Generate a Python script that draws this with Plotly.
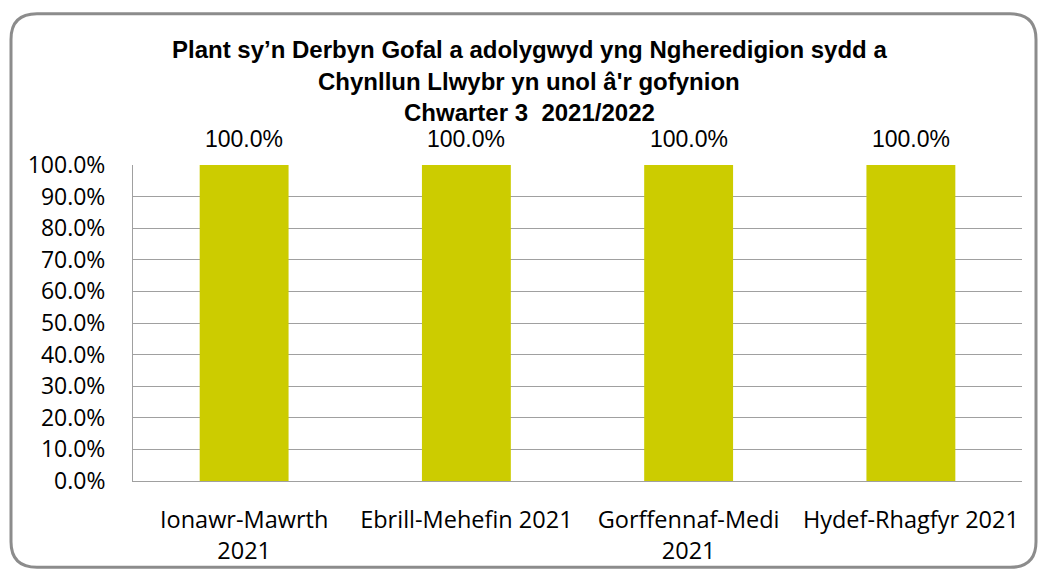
import plotly.graph_objects as go

# Data
categories = [
    "Ionawr-Mawrth<br>2021",
    "Ebrill-Mehefin 2021",
    "Gorffennaf-Medi<br>2021",
    "Hydef-Rhagfyr 2021",
]
values = [1.0, 1.0, 1.0, 1.0]
y_ticks = [0.0, 0.1, 0.2, 0.3, 0.4, 0.5, 0.6, 0.7, 0.8, 0.9, 1.0]

title_lines = [
    "Plant sy\u2019n Derbyn Gofal a adolygwyd yng Ngheredigion sydd a",
    "Chynllun Llwybr yn unol \u00e2'r gofynion",
    "Chwarter 3  2021/2022",
]

W, H = 1039, 578
L, R, T, B = 133, 17, 165, 91
pw, ph = W - L - R, H - T - B


def px(x):
    return (x - L) / pw


def py(y):
    return (H - B - y) / ph


fig = go.Figure(
    go.Bar(
        x=categories,
        y=values,
        marker=dict(color="#CCCC00", line=dict(width=0)),
        width=0.4,
        hoverinfo="skip",
    )
)

# data labels above the bars
for c, v in zip(categories, values):
    fig.add_annotation(
        x=c, y=v, text=f"{v * 100:.1f}%", showarrow=False,
        yanchor="bottom", yshift=11,
        font=dict(family="Liberation Sans, Arial", size=23, color="#000000"),
    )

# title, one line per annotation so the line spacing matches
for line, ty in zip(title_lines, [47, 80, 112]):
    fig.add_annotation(
        xref="paper", yref="paper", x=px(529), y=py(ty),
        text="<b>" + line + "</b>", showarrow=False,
        xanchor="center", yanchor="middle",
        font=dict(family="Liberation Sans Narrow, Arial Narrow, Liberation Sans",
                  size=24, color="#000000"),
    )

# rounded chart border
x0, x1, y0, y1, r = 11, 1036, 11, 575, 26
path = (
    f"M {px(x0 + r)},{py(y0)} L {px(x1 - r)},{py(y0)} "
    f"Q {px(x1)},{py(y0)} {px(x1)},{py(y0 + r)} "
    f"L {px(x1)},{py(y1 - r)} Q {px(x1)},{py(y1)} {px(x1 - r)},{py(y1)} "
    f"L {px(x0 + r)},{py(y1)} Q {px(x0)},{py(y1)} {px(x0)},{py(y1 - r)} "
    f"L {px(x0)},{py(y0 + r)} Q {px(x0)},{py(y0)} {px(x0 + r)},{py(y0)} Z"
)
fig.add_shape(type="path", path=path, xref="paper", yref="paper",
              line=dict(color="#8C8C8C", width=3), layer="below")

fig.update_layout(
    width=W, height=H,
    margin=dict(l=L, r=R, t=T, b=B),
    paper_bgcolor="white", plot_bgcolor="white",
    showlegend=False,
    font=dict(family="Open Sans, Noto Sans", size=23, color="#000000"),
)

fig.update_xaxes(
    showline=True, linecolor="#A0A0A0", linewidth=1,
    showgrid=False, ticks="", ticklabelstandoff=18,
    tickfont=dict(family="Open Sans, Noto Sans", size=23.5),
)
fig.update_yaxes(
    range=[0, 1], tickvals=y_ticks, tickformat=".1%",
    showline=True, linecolor="#A0A0A0", linewidth=1,
    showgrid=True, gridcolor="#A0A0A0", gridwidth=1,
    zeroline=False, ticks="", ticklabelstandoff=22,
    tickfont=dict(family="Open Sans, Noto Sans", size=23),
)

# drop the default page margin so the figure sits at the window's corner
fig.write_html(
    "out.html",
    config={"displayModeBar": False},
    post_script="document.body.style.margin='0';",
)
